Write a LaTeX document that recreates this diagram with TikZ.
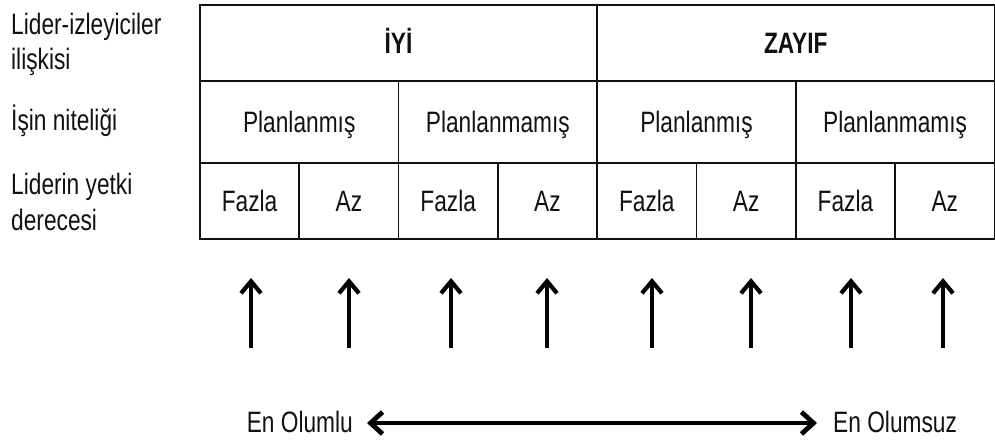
\documentclass[tikz,border=0pt]{standalone}
\usepackage{fontspec}
\setmainfont[FakeStretch=0.77]{Liberation Sans}
\usetikzlibrary{arrows.meta}
\definecolor{ink}{HTML}{111111}
\begin{document}
\begin{tikzpicture}[x=1pt,y=-1pt,
  every node/.style={font=\fontsize{29.5}{35.5}\selectfont, text=ink},
  cell/.style={draw=ink, line width=1.8pt, inner sep=0pt, anchor=north west,
    minimum height=#1, text height=22pt, text depth=0pt},
  cell/.default=76pt,
  side/.style={anchor=base west, align=left, inner sep=0pt},
  uparrow/.style={line width=4.2pt, draw=black, -{Straight Barb[length=12pt,width=20pt]}},
  bothway/.style={line width=4.8pt, draw=black, {Straight Barb[length=12pt,width=22pt]}-{Straight Barb[length=12pt,width=22pt]}}
]
\useasboundingbox (0,0) rectangle (995,441);
% row 1
\node[cell=76pt, minimum width=397.25pt] (iyi) at (199,4) {\textbf{İYİ}};
\node[cell=76pt, minimum width=397.25pt] (zayif) at (596.25,4) {\textbf{ZAYIF}};
% row 2
\node[cell=82pt, minimum width=198.62pt] (p1) at (199,80) {Planlanmış};
\node[cell=82pt, minimum width=198.62pt] (p2) at (397.62,80) {Planlanmamış};
\node[cell=82pt, minimum width=198.62pt] (p3) at (596.25,80) {Planlanmış};
\node[cell=82pt, minimum width=198.62pt] (p4) at (794.87,80) {Planlanmamış};
% row 3
\node[cell=76pt, minimum width=99.31pt] (f1) at (199,162) {Fazla};
\node[cell=76pt, minimum width=99.31pt] (a1) at (298.31,162) {Az};
\node[cell=76pt, minimum width=99.31pt] (f2) at (397.62,162) {Fazla};
\node[cell=76pt, minimum width=99.31pt] (a2) at (496.94,162) {Az};
\node[cell=76pt, minimum width=99.31pt] (f3) at (596.25,162) {Fazla};
\node[cell=76pt, minimum width=99.31pt] (a3) at (695.56,162) {Az};
\node[cell=76pt, minimum width=99.31pt] (f4) at (794.87,162) {Fazla};
\node[cell=76pt, minimum width=99.31pt] (a4) at (894.19,162) {Az};
% side labels (base = last line)
\node[side] (l1) at (11,70) {Lider-izleyiciler\\ilişkisi};
\node[side] (l2) at (11,131) {İşin niteliği};
\node[side] (l3) at (11,230) {Liderin yetki\\derecesi};
% vertical arrows
\foreach \i/\x in {1/251,2/349,3/451,4/547,5/652,6/751,7/851,8/943}{
  \coordinate (b\i) at (\x,348);
  \coordinate (t\i) at (\x,278);
  \draw[uparrow] (b\i) -- (t\i);
}
% bottom scale
\node[anchor=base east, inner sep=0pt] (pos) at (353,432) {En Olumlu};
\node[anchor=base west, inner sep=0pt] (neg) at (833,432) {En Olumsuz};
\coordinate (pl) at (367,423);
\coordinate (nr) at (817,423);
\draw[bothway] (pl) -- (nr);
\end{tikzpicture}
\end{document}
